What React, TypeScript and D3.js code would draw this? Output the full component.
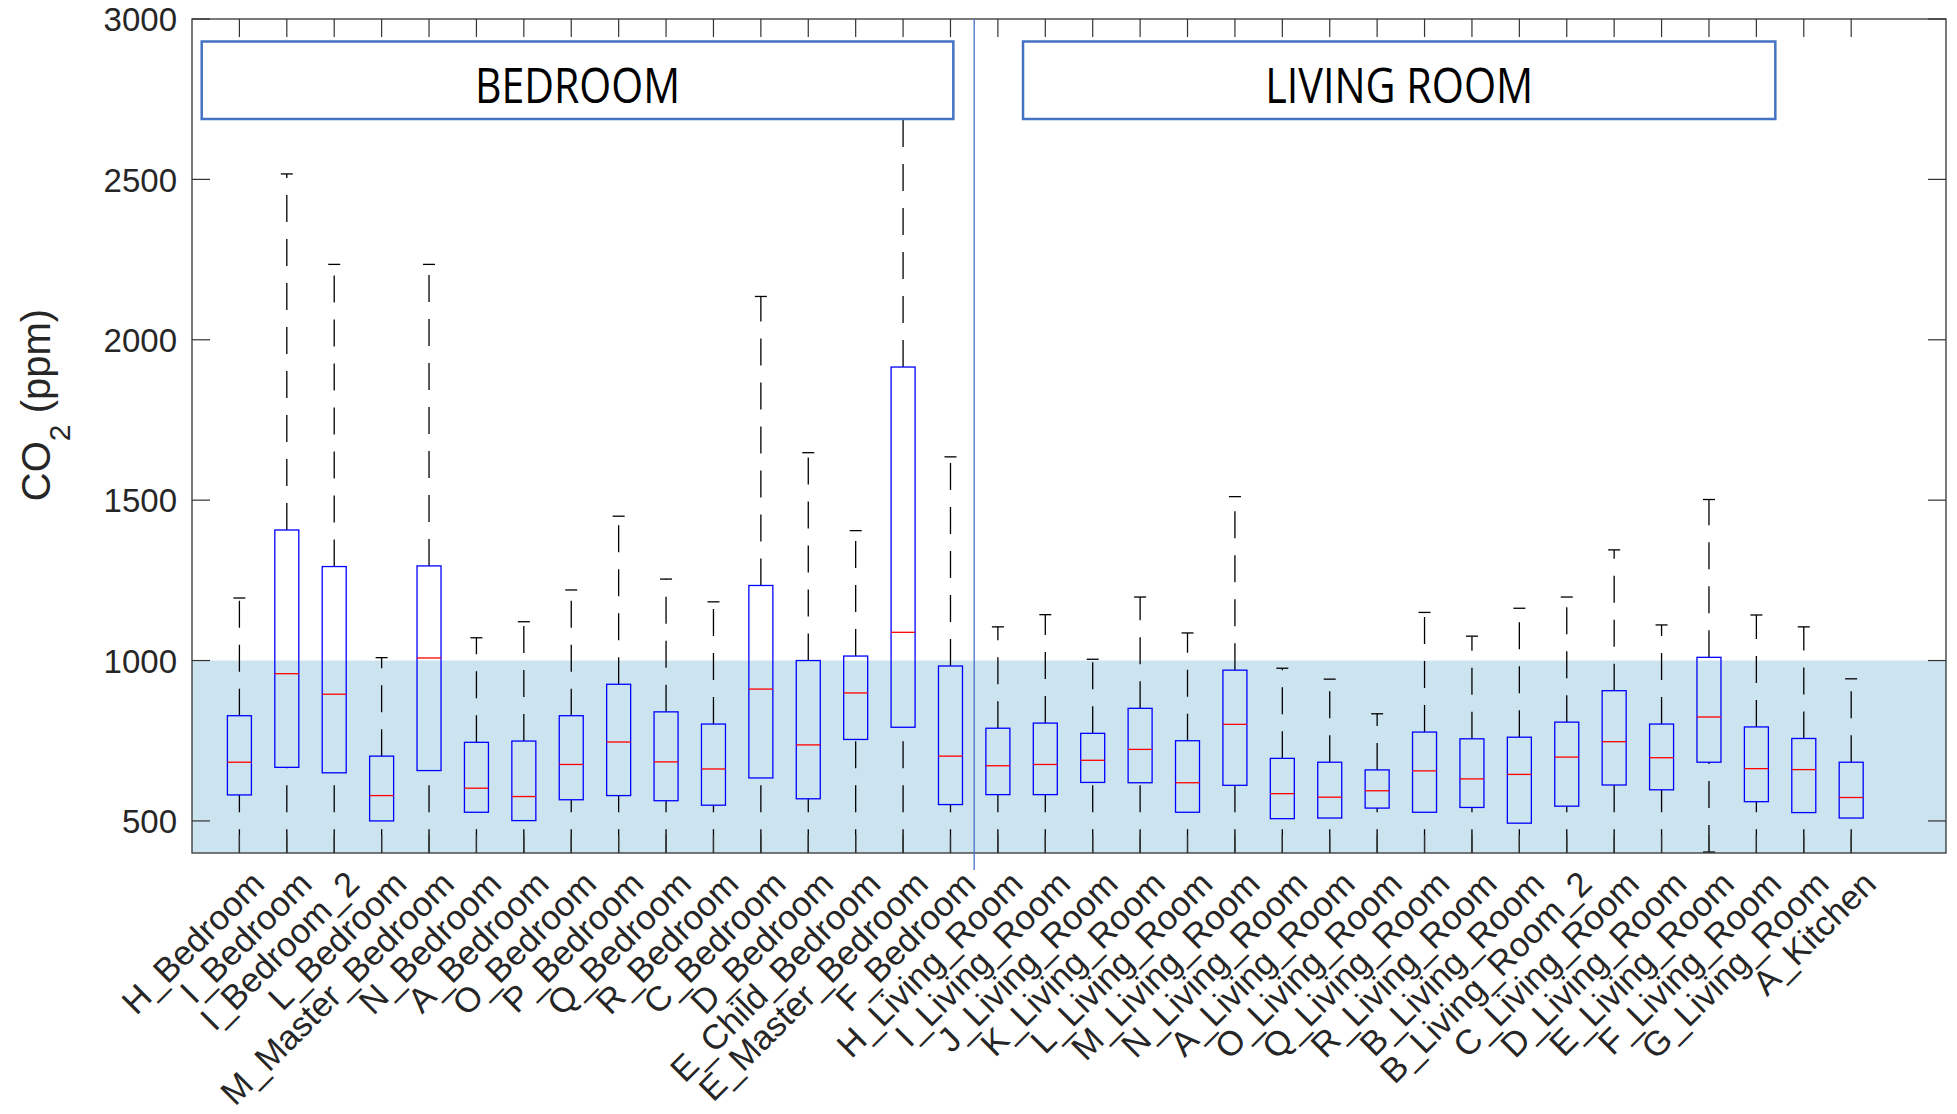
import React from "react";
import * as d3 from "d3";

// room names, in plot order
const rooms = [
  "H_Bedroom", "I_Bedroom", "I_Bedroom_2", "L_Bedroom", "M_Master_Bedroom", "N_Bedroom",
  "A_Bedroom", "O_Bedroom", "P_Bedroom", "Q_Bedroom", "R_Bedroom", "C_Bedroom", "D_Bedroom",
  "E_Child_Bedroom", "E_Master_Bedroom", "F_Bedroom",
  "H_Living_Room", "I_Living_Room", "J_Living_Room", "K_Living_Room", "L_Living_Room",
  "M_Living_Room", "N_Living_Room", "A_Living_Room", "O_Living_Room", "Q_Living_Room",
  "R_Living_Room", "B_Living_Room", "B_Living_Room_2", "C_Living_Room", "D_Living_Room",
  "E_Living_Room", "F_Living_Room", "G_Living_Room", "A_Kitchen",
];

// CO2 (ppm)
const upperWhisker = [1195, 2517, 2235, 1009, 2235, 1071, 1121, 1220, 1450, 1254, 1183, 2135, 1648, 1405, 2800, 1635,
  1105, 1143, 1004, 1198, 1086, 1511, 976, 942, 834, 1150, 1076, 1163, 1198, 1345, 1111, 1502, 1142, 1105, 943];
const q3 = [828, 1407, 1293, 702, 1295, 745, 749, 828, 926, 840, 802, 1234, 1000, 1014, 1915, 983,
  789, 805, 773, 851, 750, 970, 695, 683, 659, 777, 756, 761, 808, 906, 802, 1010, 793, 757, 683];
const median = [683, 959, 895, 579, 1008, 602, 576, 676, 746, 684, 662, 911, 737, 899, 1088, 702,
  672, 676, 689, 723, 619, 801, 585, 574, 594, 656, 631, 645, 699, 747, 697, 824, 663, 660, 573];
const q1 = [581, 667, 650, 500, 657, 527, 501, 566, 579, 563, 549, 634, 569, 754, 792, 551,
  582, 582, 620, 619, 527, 611, 507, 509, 540, 527, 542, 493, 546, 612, 597, 683, 560, 526, 509];
const lowerWhisker = [390, 390, 390, 390, 390, 390, 390, 390, 390, 390, 390, 390, 390, 390, 390, 390,
  390, 390, 390, 390, 390, 390, 390, 390, 390, 390, 390, 390, 390, 390, 390, 403, 390, 390, 390];

const yTicks = [500, 1000, 1500, 2000, 2500, 3000];
const limit = 1000;
const groups = [
  { name: "BEDROOM", from: 0.205, to: 16.06, width: 205 },
  { name: "LIVING ROOM", from: 17.53, to: 33.4, width: 268 },
];

const width = 1957, height = 1114;
const left = 192, right = 1946, top = 19, bottom = 853;
const axisColor = "#333333";
const tickLen = 18;

const App = () => {
  const x = d3.scaleLinear().domain([0, rooms.length + 2]).range([left, right]);
  const y = d3.scaleLinear().domain([400, 3000]).range([bottom, top]);
  const boxHalf = 12, capHalf = 6;
  const dash = "27,17";

  return (
    <svg width={width} height={height} style={{ position: "absolute", left: 0, top: 0, background: "#fff" }}
      fontFamily="'Liberation Sans', Arial, sans-serif">
      <defs>
        <clipPath id="plot">
          <rect x={left} y={top} width={right - left} height={bottom - top} />
        </clipPath>
      </defs>

      {/* comfort band below 1000 ppm */}
      <rect x={left} y={y(limit)} width={right - left} height={bottom - y(limit)} fill="#cbe4f0" />

      <g clipPath="url(#plot)">
        {rooms.map((r, i) => {
          const cx = x(i + 1);
          return (
            <g key={r}>
              <line x1={cx} x2={cx} y1={y(q3[i])} y2={y(upperWhisker[i])} stroke="#000" strokeWidth={1.3} strokeDasharray={dash} />
              <line x1={cx} x2={cx} y1={y(lowerWhisker[i])} y2={y(q1[i])} stroke="#000" strokeWidth={1.3} strokeDasharray={dash} />
              <line x1={cx - capHalf} x2={cx + capHalf} y1={y(upperWhisker[i])} y2={y(upperWhisker[i])} stroke="#000" strokeWidth={1.3} />
              <line x1={cx - capHalf} x2={cx + capHalf} y1={y(lowerWhisker[i])} y2={y(lowerWhisker[i])} stroke="#000" strokeWidth={1.3} />
              <rect x={cx - boxHalf} y={y(q3[i])} width={boxHalf * 2} height={y(q1[i]) - y(q3[i])}
                fill="none" stroke="#0000ff" strokeWidth={1.3} />
              <line x1={cx - boxHalf} x2={cx + boxHalf} y1={y(median[i])} y2={y(median[i])} stroke="#ff0000" strokeWidth={1.3} />
            </g>
          );
        })}
      </g>

      {/* frame and ticks */}
      <rect x={left} y={top} width={right - left} height={bottom - top} fill="none" stroke={axisColor} strokeWidth={1.3} />
      {rooms.map((r, i) => (
        <g key={"t" + r} stroke={axisColor} strokeWidth={1.2}>
          <line x1={x(i + 1)} x2={x(i + 1)} y1={top} y2={top + tickLen} />
          <line x1={x(i + 1)} x2={x(i + 1)} y1={bottom} y2={bottom - tickLen} />
        </g>
      ))}
      {yTicks.map(t => (
        <g key={"y" + t}>
          <line x1={left} x2={left + tickLen} y1={y(t)} y2={y(t)} stroke={axisColor} strokeWidth={1.2} />
          <line x1={right} x2={right - tickLen} y1={y(t)} y2={y(t)} stroke={axisColor} strokeWidth={1.2} />
          <text x={left - 15} y={y(t)} dy="0.37em" textAnchor="end" fontSize={33} fill="#262626">{t}</text>
        </g>
      ))}

      {/* group separator */}
      <line x1={x(16.5)} x2={x(16.5)} y1={top} y2={870} stroke="#4472c4" strokeWidth={1.3} />

      {/* group labels */}
      {groups.map(g => (
        <g key={g.name}>
          <rect x={x(g.from)} y={41.5} width={x(g.to) - x(g.from)} height={77.5} fill="#fff" stroke="#4472c4" strokeWidth={2.5} />
          <text x={(x(g.from) + x(g.to)) / 2} y={103} textAnchor="middle" fontSize={49}
            fontFamily="'Open Sans', sans-serif" textLength={g.width} lengthAdjust="spacingAndGlyphs" fill="#000">{g.name}</text>
        </g>
      ))}

      {/* category labels */}
      {rooms.map((r, i) => (
        <text key={"l" + r} transform={`translate(${x(i + 1) + 27},886) rotate(-45)`} textAnchor="end"
          fontSize={34.5} fill="#262626">{r}</text>
      ))}

      {/* y axis label */}
      <text transform="translate(50,405) rotate(-90)" textAnchor="middle" fontSize={40} fill="#262626">
        CO<tspan fontSize={30} dy={20}>2</tspan><tspan dy={-20}> (ppm)</tspan>
      </text>
    </svg>
  );
};

export default App;
